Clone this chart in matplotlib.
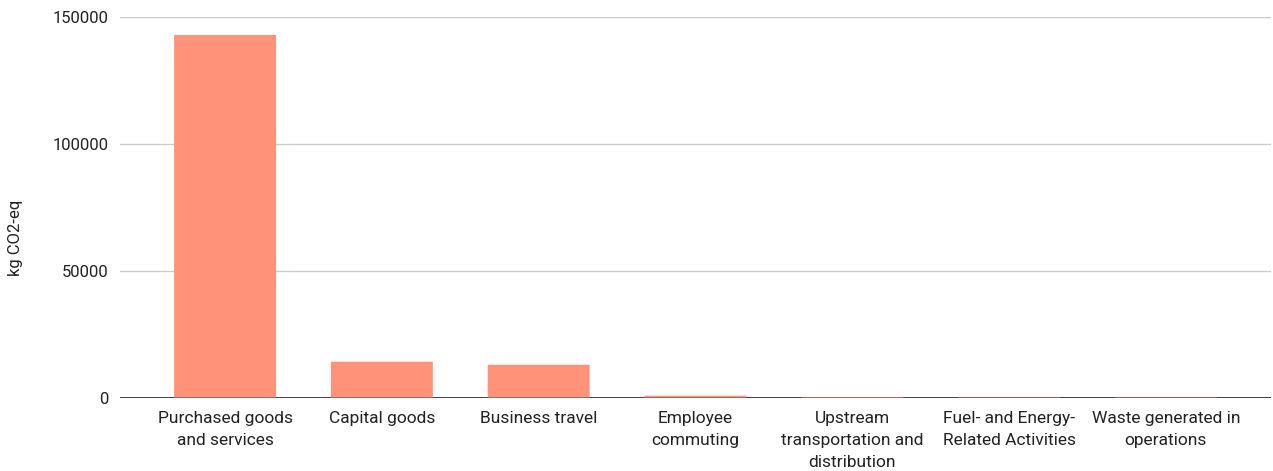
import matplotlib.pyplot as plt
from matplotlib.patches import FancyBboxPatch

plt.rcParams['font.family'] = ['Roboto', 'DejaVu Sans']

# Emissions by scope 3 category
categories = ['Purchased goods\nand services', 'Capital goods', 'Business travel',
              'Employee\ncommuting', 'Upstream\ntransportation and\ndistribution',
              'Fuel- and Energy-\nRelated Activities', 'Waste generated in\noperations']
emissions = [142900, 14100, 12900, 700, 180, 150, 150]
y_ticks = [0, 50000, 100000, 150000]

bar_color = '#ff9279'
bar_width = 0.65

fig = plt.figure(figsize=(12.73, 4.71), dpi=100)
ax = fig.add_axes([120 / 1273, (471 - 397.5) / 471, 1151 / 1273, 380.5 / 471])

x = range(len(categories))
for i, v in zip(x, emissions):
    # rounded bar tops
    box = FancyBboxPatch((i - bar_width / 2, 0), bar_width, v,
                         boxstyle='round,pad=0,rounding_size=0.01',
                         mutation_aspect=400,
                         facecolor=bar_color, edgecolor='none', zorder=3)
    ax.add_patch(box)

ax.set_xlim(-0.67, len(categories) - 1 + 0.67)
ax.set_ylim(0, 150000)
ax.set_yticks(y_ticks)
ax.set_yticklabels([str(t) for t in y_ticks])
ax.set_xticks(list(x))
ax.set_xticklabels(categories, linespacing=1.58)

ax.grid(axis='y', color='#cccccc', linewidth=1, zorder=0)
ax.axhline(0, color='#333333', linewidth=1.3, zorder=2)
for s in ax.spines.values():
    s.set_visible(False)
ax.tick_params(axis='y', length=0, labelsize=12, colors='#222222', pad=8)
ax.tick_params(axis='x', length=0, labelsize=12.5, colors='#222222', pad=10)

ax.set_ylabel('kg CO2-eq', fontsize=12, color='#222222')
ax.yaxis.set_label_coords((23 - 120) / 1151, (397.5 - 238) / 380.5)

fig.savefig('out.png', dpi=100)
